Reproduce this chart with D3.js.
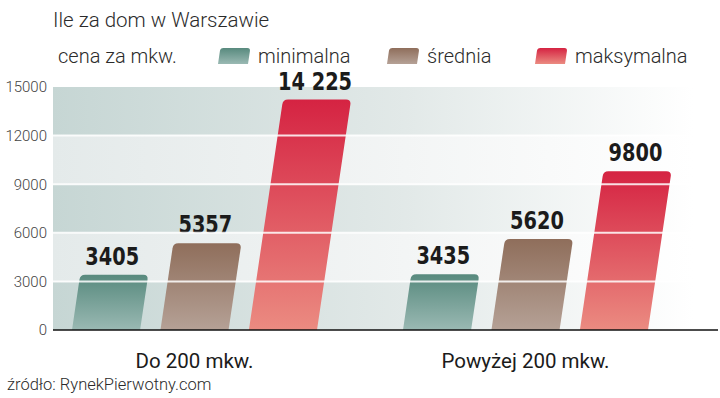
<!DOCTYPE html>
<html>
<head>
<meta charset="utf-8">
<script src="https://cdn.jsdelivr.net/npm/d3@7"></script>
<style>
body { margin: 0; background: #fff; }
text { font-family: Roboto, "Liberation Sans", sans-serif; }
.num { font-family: "DejaVu Sans Condensed", "Liberation Sans Narrow", sans-serif; font-weight: bold; font-stretch: condensed; }
</style>
</head>
<body>
<script>
var width = 720,
    height = 398;

// data
var categories = ["Do 200 mkw.", "Powyżej 200 mkw."];
var series = ["minimalna", "średnia", "maksymalna"];
var minimalna = [3405, 3435];
var srednia = [5357, 5620];
var maksymalna = [14225, 9800];
var valueLabels = [["3405", "5357", "14 225"], ["3435", "5620", "9800"]];
var yTicks = [0, 3000, 6000, 9000, 12000, 15000];

var colors = {
  "minimalna": ["#588a7e", "#9ab9b3"],
  "średnia": ["#8f6e5b", "#b5a196"],
  "maksymalna": ["#d52342", "#eb8b81"]
};

var values = [minimalna, srednia, maksymalna];

var svg = d3.select("body").append("svg")
  .attr("width", width)
  .attr("height", height);

var defs = svg.append("defs");
series.forEach(function(s, i) {
  var g = defs.append("linearGradient").attr("id", "grad" + i)
    .attr("x1", 0).attr("y1", 0).attr("x2", 0).attr("y2", 1);
  g.append("stop").attr("offset", "0%").attr("stop-color", colors[s][0]);
  g.append("stop").attr("offset", "100%").attr("stop-color", colors[s][1]);
});
var bgDark = defs.append("linearGradient").attr("id", "bgDark");
bgDark.append("stop").attr("offset", "0%").attr("stop-color", "#c6d6d4");
bgDark.append("stop").attr("offset", "55%").attr("stop-color", "#e2e9e8");
bgDark.append("stop").attr("offset", "100%").attr("stop-color", "#ffffff");
var bgLight = defs.append("linearGradient").attr("id", "bgLight");
bgLight.append("stop").attr("offset", "0%").attr("stop-color", "#e4eaea");
bgLight.append("stop").attr("offset", "55%").attr("stop-color", "#f3f5f5");
bgLight.append("stop").attr("offset", "100%").attr("stop-color", "#ffffff");

var plotLeft = 53, plotRight = 718, plotTop = 87, plotBottom = 330;

var y = d3.scaleLinear().domain([0, 15000]).range([plotBottom, plotTop]);
var x0 = d3.scaleBand().domain(categories).range([62, 724]);
var x1 = d3.scaleBand().domain(series).range([10, 255]).paddingInner(0.23);
var slope = 0.148;

// background bands
for (var i = 0; i < yTicks.length - 1; i++) {
  svg.append("rect")
    .attr("x", plotLeft)
    .attr("y", y(yTicks[i + 1]))
    .attr("width", 640)
    .attr("height", y(yTicks[i]) - y(yTicks[i + 1]))
    .attr("fill", i % 2 == 0 ? "url(#bgDark)" : "url(#bgLight)");
}

// title + legend
svg.append("text").attr("x", 53).attr("y", 27).attr("font-size", 20.5).attr("font-weight", 300)
  .attr("fill", "#2b2b2b").text("Ile za dom w Warszawie");
svg.append("text").attr("x", 58).attr("y", 63).attr("font-size", 20).attr("font-weight", 300)
  .attr("fill", "#2b2b2b").text("cena za mkw.");

var legendX = [218, 387, 535];
function slanted(x, yb, w, yt, r) {
  var s = slope * (yb - yt);
  return "M" + x + "," + yb +
    "L" + (x + s - slope * r) + "," + (yt + r) +
    "Q" + (x + s) + "," + yt + " " + (x + s + r) + "," + yt +
    "L" + (x + w + s - r) + "," + yt +
    "Q" + (x + w + s) + "," + yt + " " + (x + w + s - slope * r) + "," + (yt + r) +
    "L" + (x + w) + "," + yb + "Z";
}
series.forEach(function(s, i) {
  svg.append("path")
    .attr("d", slanted(legendX[i], 64, 30, 48, 3))
    .attr("fill", "url(#grad" + i + ")");
  svg.append("text").attr("x", legendX[i] + 40).attr("y", 63)
    .attr("font-size", 20).attr("font-weight", 300).attr("fill", "#2b2b2b").text(s);
});

// bars
categories.forEach(function(c, ci) {
  series.forEach(function(s, si) {
    var v = values[si][ci];
    var bx = x0(c) + x1(s);
    var bw = x1.bandwidth();
    var yt = y(v);
    svg.append("path")
      .attr("d", slanted(bx, plotBottom, bw, yt, 5))
      .attr("fill", "url(#grad" + si + ")");
    var s2 = slope * (plotBottom - yt);
    svg.append("text").attr("class", "num")
      .attr("transform", "translate(" + (bx + s2 + bw / 2 - 2) + "," + (yt - 10) + ") scale(0.86,1)")
      .attr("text-anchor", "middle")
      .attr("font-size", 25)
      .attr("fill", "#1b1b1b")
      .text(valueLabels[ci][si]);
  });
  svg.append("text")
    .attr("x", x0(c) + x1.range()[0] + (x1.range()[1] - x1.range()[0]) / 2)
    .attr("y", 368)
    .attr("text-anchor", "middle")
    .attr("font-size", 20.5)
    .attr("fill", "#1b1b1b")
    .text(c);
});

// gridlines over bars
svg.selectAll(".grid").data(yTicks.slice(1, -1)).enter().append("line")
  .attr("x1", plotLeft).attr("x2", 700)
  .attr("y1", function(d) { return y(d); })
  .attr("y2", function(d) { return y(d); })
  .attr("stroke", "#fff").attr("stroke-opacity", 0.85).attr("stroke-width", 2);

// y axis labels
var yAxis = d3.axisLeft(y).tickValues(yTicks).tickSize(0).tickPadding(0).tickFormat(d3.format("d"));
var ya = svg.append("g").attr("transform", "translate(47,0)").call(yAxis);
ya.select(".domain").remove();
ya.selectAll("text").attr("font-size", 15).attr("fill", "#444").attr("font-weight", 300)
  .style("font-family", "Roboto, sans-serif");

// baseline
svg.append("line").attr("x1", plotLeft).attr("x2", plotRight)
  .attr("y1", plotBottom).attr("y2", plotBottom)
  .attr("stroke", "#111").attr("stroke-width", 1.5);

svg.append("text").attr("x", 7).attr("y", 390).attr("font-size", 16.5).attr("font-weight", 300)
  .attr("fill", "#2b2b2b").text("źródło: RynekPierwotny.com");
</script>
</body>
</html>
